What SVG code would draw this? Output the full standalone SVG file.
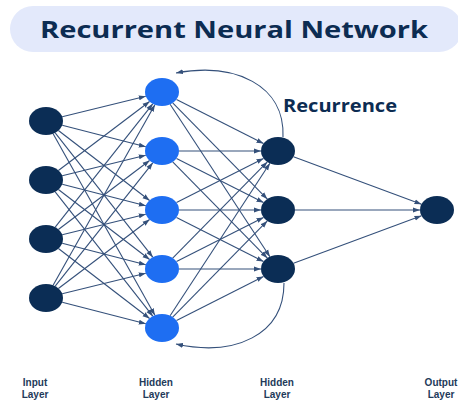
<svg xmlns="http://www.w3.org/2000/svg" width="458" height="401" viewBox="0 0 458 401">
<defs>
<marker id="ah" markerUnits="userSpaceOnUse" markerWidth="7" markerHeight="6" refX="7" refY="3" orient="auto">
<path d="M0,0.5 L7,3 L0,5.5 z" fill="#34507a"/>
</marker>
<style>
.c line, .c path { stroke:#34507a; stroke-width:1.1; fill:none; marker-end:url(#ah); }
.dark { fill:#0b2d55; }
.blue { fill:#1e6ef2; }
.lbl { font-family:"Liberation Sans", Arial, sans-serif; font-weight:bold; font-size:10px; fill:#233a5a; text-anchor:middle; }
</style>
</defs>
<rect width="458" height="401" fill="#ffffff"/>
<g id="title">
<rect x="10" y="6" width="452" height="46" rx="23" fill="#e3e9fb"/>
<text x="234" y="38" font-family="Open Sans, Liberation Sans, Arial, sans-serif" font-weight="bold" font-size="24" fill="#0c2c52" text-anchor="middle" textLength="388" lengthAdjust="spacingAndGlyphs">Recurrent Neural Network</text>
</g>
<g class="c" id="connectors">
<line x1="62.2" y1="116.8" x2="145.8" y2="96.2"/>
<line x1="62.2" y1="125.2" x2="145.8" y2="146.8"/>
<line x1="58.4" y1="130.5" x2="149.6" y2="200.5"/>
<line x1="55.2" y1="132.8" x2="152.8" y2="257.2"/>
<line x1="53.1" y1="133.7" x2="154.9" y2="315.3"/>
<line x1="58.4" y1="170.5" x2="149.6" y2="101.5"/>
<line x1="62.2" y1="175.8" x2="145.8" y2="155.2"/>
<line x1="62.2" y1="184.2" x2="145.8" y2="205.8"/>
<line x1="58.4" y1="189.5" x2="149.6" y2="259.5"/>
<line x1="55.2" y1="191.8" x2="152.8" y2="316.2"/>
<line x1="55.2" y1="227.2" x2="152.8" y2="103.8"/>
<line x1="58.4" y1="229.5" x2="149.6" y2="160.5"/>
<line x1="62.2" y1="234.8" x2="145.8" y2="214.2"/>
<line x1="62.2" y1="243.2" x2="145.8" y2="264.8"/>
<line x1="58.4" y1="248.5" x2="149.6" y2="318.5"/>
<line x1="53.1" y1="285.3" x2="154.9" y2="104.7"/>
<line x1="55.2" y1="286.2" x2="152.8" y2="162.8"/>
<line x1="58.4" y1="288.5" x2="149.6" y2="219.5"/>
<line x1="62.2" y1="293.8" x2="145.8" y2="273.2"/>
<line x1="62.2" y1="302.2" x2="145.8" y2="323.8"/>
<line x1="176.5" y1="99.4" x2="263.5" y2="143.6"/>
<line x1="172.7" y1="102.9" x2="267.3" y2="199.1"/>
<line x1="170.1" y1="104.3" x2="269.9" y2="256.7"/>
<line x1="179" y1="151" x2="261" y2="151"/>
<line x1="176.5" y1="158.4" x2="263.5" y2="202.6"/>
<line x1="172.7" y1="161.9" x2="267.3" y2="258.1"/>
<line x1="176.5" y1="202.6" x2="263.5" y2="158.4"/>
<line x1="179" y1="210" x2="261" y2="210"/>
<line x1="176.5" y1="217.4" x2="263.5" y2="261.6"/>
<line x1="172.7" y1="258.1" x2="267.3" y2="161.9"/>
<line x1="176.5" y1="261.6" x2="263.5" y2="217.4"/>
<line x1="179" y1="269" x2="261" y2="269"/>
<line x1="170.1" y1="315.7" x2="269.9" y2="163.3"/>
<line x1="172.7" y1="317.1" x2="267.3" y2="220.9"/>
<line x1="176.5" y1="320.6" x2="263.5" y2="276.4"/>
<line x1="293.5" y1="156.8" x2="421.5" y2="204.2"/>
<line x1="295" y1="210" x2="420" y2="210"/>
<line x1="293.5" y1="263.2" x2="421.5" y2="215.8"/>
<path d="M283,137 C285,85 235,62 176,73"/>
<path d="M284,283 C284,335 235,357 176,344"/>
</g>
<g id="input">
<ellipse class="dark" cx="46" cy="121" rx="17" ry="14"/>
<ellipse class="dark" cx="46" cy="180" rx="17" ry="14"/>
<ellipse class="dark" cx="46" cy="239" rx="17" ry="14"/>
<ellipse class="dark" cx="46" cy="298" rx="17" ry="14"/>
</g>
<g id="hidden1">
<ellipse class="blue" cx="162" cy="92" rx="17" ry="14"/>
<ellipse class="blue" cx="162" cy="151" rx="17" ry="14"/>
<ellipse class="blue" cx="162" cy="210" rx="17" ry="14"/>
<ellipse class="blue" cx="162" cy="269" rx="17" ry="14"/>
<ellipse class="blue" cx="162" cy="328" rx="17" ry="14"/>
</g>
<g id="hidden2">
<ellipse class="dark" cx="278" cy="151" rx="17" ry="14"/>
<ellipse class="dark" cx="278" cy="210" rx="17" ry="14"/>
<ellipse class="dark" cx="278" cy="269" rx="17" ry="14"/>
</g>
<g id="output">
<ellipse class="dark" cx="437" cy="210" rx="17" ry="14"/>
</g>
<g id="recurrence-label">
<text x="283" y="112" font-family="Open Sans, Liberation Sans, Arial, sans-serif" font-weight="bold" font-size="17" fill="#0c2c52" textLength="114" lengthAdjust="spacingAndGlyphs">Recurrence</text>
</g>
<g id="labels">
<text class="lbl" x="35" y="386">Input</text>
<text class="lbl" x="35" y="398">Layer</text>
<text class="lbl" x="156" y="386">Hidden</text>
<text class="lbl" x="156" y="398">Layer</text>
<text class="lbl" x="277" y="386">Hidden</text>
<text class="lbl" x="277" y="398">Layer</text>
<text class="lbl" x="441" y="386">Output</text>
<text class="lbl" x="441" y="398">Layer</text>
</g>
</svg>
